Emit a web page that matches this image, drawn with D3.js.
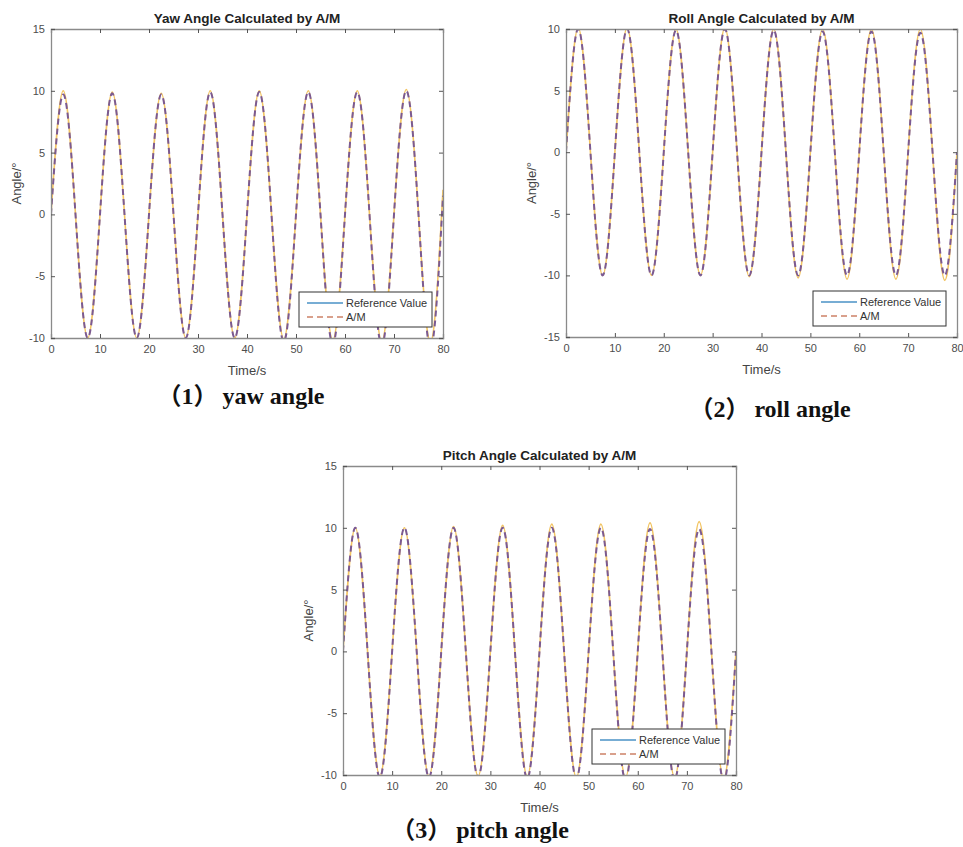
<!DOCTYPE html>
<html>
<head>
<meta charset="utf-8">
<script src="https://cdn.jsdelivr.net/npm/d3@7"></script>
<style>
  body { margin: 0; background: #fff; }
  text { font-family: "Liberation Sans", Arial, sans-serif; }
</style>
</head>
<body>
<div id="chart"></div>
<script>
// Data
const times = [0, 2.5, 5, 7.5, 10, 12.5, 15, 17.5, 20, 22.5, 25, 27.5, 30, 32.5, 35, 37.5,
  40, 42.5, 45, 47.5, 50, 52.5, 55, 57.5, 60, 62.5, 65, 67.5, 70, 72.5, 75, 77.5, 80]

const yawRef = [0, 10, 0, -10, 0, 9.9, 0, -10, 0, 9.8, 0, -10, 0, 10, 0, -10,
  0, 10, 0, -10.1, 0, 10, 0, -10.2, 0, 10, 0, -10.3, 0, 10.1, 0, -10.4, 2]
const yawAM = [0, 9.7, 0, -10, 0, 9.8, 0, -10, 0, 9.7, 0, -10, 0, 9.9, 0, -10,
  0, 9.9, 0, -10.3, 0, 9.9, 0, -10.5, 0, 9.9, 0, -10.6, 0, 10, 0, -10.8, 1.5]

const rollRef = [0, 10.1, 0, -10, 0, 10.1, 0, -10, 0, 10, 0, -10, 0, 10.1, 0, -10.1,
  0, 10, 0, -10.2, 0, 10, 0, -10.3, 0, 10, 0, -10.3, 0, 10, 0, -10.4, 0]
const rollAM = [0, 10, 0, -10, 0, 10, 0, -10, 0, 9.9, 0, -10, 0, 10, 0, -10,
  0, 9.9, 0, -10, 0, 9.8, 0, -10, 0, 9.8, 0, -10, 0, 9.7, 0, -10, 0]

const pitchRef = [0, 10, 0, -10.1, 0, 10, 0, -10.1, 0, 10.1, 0, -10.1, 0, 10.2, 0, -10.1,
  0, 10.3, 0, -10.2, 0, 10.3, 0, -10.2, 0, 10.4, 0, -10.2, 0, 10.5, 0, -10.3, 0]
const pitchAM = [0, 10, 0, -10.2, 0, 10, 0, -10.2, 0, 10, 0, -10.2, 0, 10, 0, -10.3,
  0, 10, 0, -10.3, 0, 10, 0, -10.4, 0, 9.9, 0, -10.4, 0, 9.9, 0, -10.5, 0]

const xTicks = [0, 10, 20, 30, 40, 50, 60, 70, 80]
const yTicksYaw = [-10, -5, 0, 5, 10, 15]
const yTicksRoll = [-15, -10, -5, 0, 5, 10]
const yTicksPitch = [-10, -5, 0, 5, 10, 15]

const legendLabels = ['Reference Value', 'A/M']
const titles = ['Yaw Angle Calculated by A/M', 'Roll Angle Calculated by A/M', 'Pitch Angle Calculated by A/M']
const captionNums = ['1', '2', '3']
const captionWords = ['yaw angle', 'roll angle', 'pitch angle']

// Panels
const panels = [
  { left: 51, right: 443, top: 29, bottom: 338, yTicks: yTicksYaw, ref: yawRef, am: yawAM, capX: 241, capY: 404 },
  { left: 566, right: 957, top: 29, bottom: 337, yTicks: yTicksRoll, ref: rollRef, am: rollAM, capX: 770, capY: 417 },
  { left: 343, right: 736, top: 466, bottom: 775, yTicks: yTicksPitch, ref: pitchRef, am: pitchAM, capX: 480, capY: 838 },
]

const colors = {
  axis: '#8a8a8a',
  tickText: '#4d4d4d',
  refLine: '#f2c462',
  amLine: '#7b5a92',
  refKey: '#4a92c6',
  amKey: '#d9a08c',
}

const svg = d3.select('#chart')
  .append('svg')
  .attr('width', 963)
  .attr('height', 847)

svg.append('rect')
  .attr('width', 963)
  .attr('height', 847)
  .attr('fill', '#fff')

panels.forEach((p, i) => {
  const xScale = d3.scaleLinear()
    .domain([0, 80])
    .range([p.left, p.right])

  const yScale = d3.scaleLinear()
    .domain(d3.extent(p.yTicks))
    .range([p.bottom, p.top])

  const g = svg.append('g')

  // clip
  g.append('clipPath')
    .attr('id', 'clip' + i)
    .append('rect')
    .attr('x', p.left)
    .attr('y', p.top)
    .attr('width', p.right - p.left)
    .attr('height', p.bottom - p.top)

  const lineGenerator = values => d3.line()
    .x((d, j) => xScale(times[j]))
    .y(d => yScale(d))
    .curve(d3.curveNatural)(values)

  const plot = g.append('g').attr('clip-path', `url(#clip${i})`)

  plot.append('path')
    .attr('d', lineGenerator(p.ref))
    .attr('fill', 'none')
    .attr('stroke', colors.refLine)
    .attr('stroke-width', 1.6)

  plot.append('path')
    .attr('d', lineGenerator(p.am))
    .attr('fill', 'none')
    .attr('stroke', colors.amLine)
    .attr('stroke-width', 2)
    .attr('stroke-dasharray', '6,4')

  // Axes (plain hyphen minus like MATLAB)
  const fmt = d => String(d)
  const xAxis = d3.axisBottom(xScale).tickValues(xTicks).tickSize(-4).tickPadding(7).tickFormat(fmt)
  const xAxisTop = d3.axisTop(xScale).tickValues(xTicks).tickSize(-4).tickFormat('')
  const yAxis = d3.axisLeft(yScale).tickValues(p.yTicks).tickSize(-4).tickPadding(6).tickFormat(fmt)
  const yAxisRight = d3.axisRight(yScale).tickValues(p.yTicks).tickSize(-4).tickFormat('')

  const axes = [
    g.append('g').attr('transform', `translate(0,${p.bottom})`).call(xAxis),
    g.append('g').attr('transform', `translate(0,${p.top})`).call(xAxisTop),
    g.append('g').attr('transform', `translate(${p.left},0)`).call(yAxis),
    g.append('g').attr('transform', `translate(${p.right},0)`).call(yAxisRight),
  ]
  axes.forEach(a => {
    a.select('.domain').attr('stroke', colors.axis).attr('stroke-width', 1.3)
    a.selectAll('.tick line').attr('stroke', '#555').attr('stroke-width', 1)
    a.selectAll('.tick text')
      .attr('fill', colors.tickText)
      .style('font-size', '11px')
      .style('font-family', '"Liberation Sans", Arial, sans-serif')
  })

  // Title
  g.append('text')
    .attr('x', (p.left + p.right) / 2)
    .attr('y', p.top - 6)
    .attr('text-anchor', 'middle')
    .style('font-size', '13.5px')
    .style('font-weight', 'bold')
    .attr('fill', '#222')
    .text(titles[i])

  // Axis labels
  g.append('text')
    .attr('x', (p.left + p.right) / 2)
    .attr('y', p.bottom + 37)
    .attr('text-anchor', 'middle')
    .style('font-size', '13px')
    .attr('fill', '#444')
    .text('Time/s')

  g.append('text')
    .attr('transform', `translate(${p.left - 30},${(p.top + p.bottom) / 2}) rotate(-90)`)
    .attr('text-anchor', 'middle')
    .style('font-size', '13px')
    .attr('fill', '#444')
    .text('Angle/°')

  // Legend
  const lw = 133, lh = 35
  const lx = p.right - 11 - lw
  const ly = p.bottom - 11 - lh
  const legend = g.append('g').attr('transform', `translate(${lx},${ly})`)
  legend.append('rect')
    .attr('width', lw)
    .attr('height', lh)
    .attr('fill', '#fff')
    .attr('stroke', '#333')
    .attr('stroke-width', 1)

  legendLabels.forEach((label, k) => {
    const y = 11 + k * 14
    legend.append('line')
      .attr('x1', 8)
      .attr('x2', 44)
      .attr('y1', y)
      .attr('y2', y)
      .attr('stroke', k === 0 ? colors.refKey : colors.amKey)
      .attr('stroke-width', k === 0 ? 1.4 : 1.8)
      .attr('stroke-dasharray', k === 0 ? null : '6,4')
    legend.append('text')
      .attr('x', 47)
      .attr('y', y + 4)
      .style('font-size', '11px')
      .attr('fill', '#333')
      .text(label)
  })

  // Caption: full-width parens from the CJK font, words in a bold serif
  const cap = svg.append('text')
    .attr('x', p.capX)
    .attr('y', p.capY)
    .attr('text-anchor', 'middle')
    .style('font-size', '24px')
    .style('font-weight', 'bold')
    .attr('fill', '#111')
  cap.append('tspan')
    .style('font-family', '"Noto Sans CJK SC", sans-serif')
    .text('（')
  cap.append('tspan')
    .style('font-family', '"Liberation Serif", "Times New Roman", serif')
    .text(captionNums[i])
  cap.append('tspan')
    .style('font-family', '"Noto Sans CJK SC", sans-serif')
    .text('）')
  cap.append('tspan')
    .style('font-family', '"Liberation Serif", "Times New Roman", serif')
    .attr('dx', 5)
    .text(captionWords[i])
})
</script>
</body>
</html>
